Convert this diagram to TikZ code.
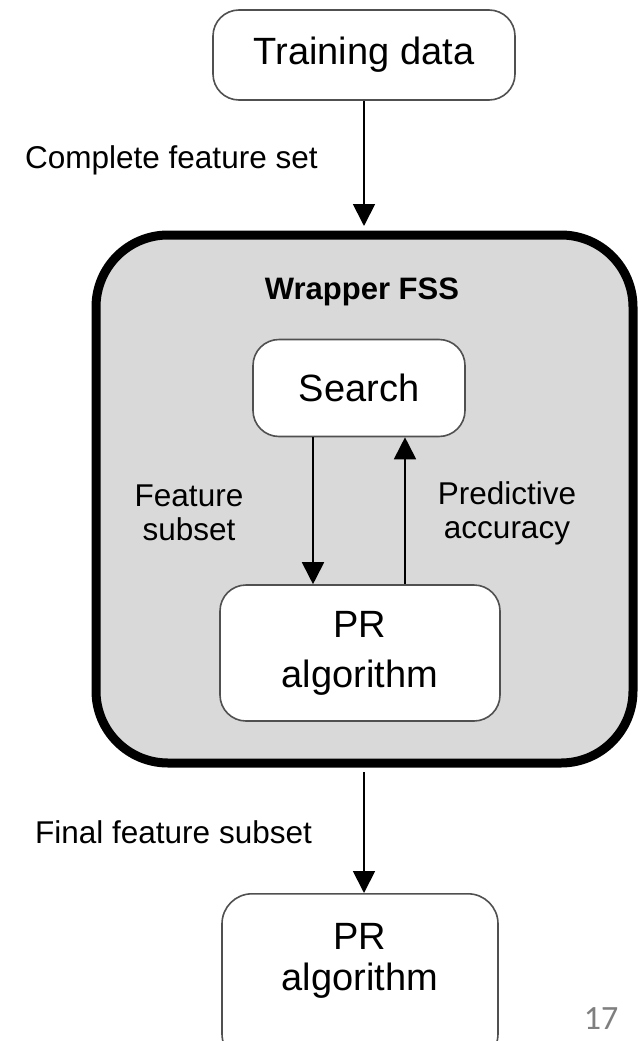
\documentclass[tikz,border=0pt]{standalone}
\usepackage{fontspec}
\setmainfont{Liberation Sans}
\newfontfamily\pagenumfont{Carlito}
\usetikzlibrary{arrows.meta}
\definecolor{wrapfill}{HTML}{D9D9D9}
\definecolor{boxline}{HTML}{505050}
\definecolor{pagegray}{HTML}{7F7F7F}
\tikzset{
  roundbox/.style={draw=boxline, line width=1.6pt, rounded corners=26pt, fill=white, align=center, inner sep=0pt},
  bigtext/.style={font=\fontsize{38}{50}\selectfont},
  labeltext/.style={font=\fontsize{31.5}{34}\selectfont, align=center, inner sep=0pt},
  arr/.style={draw=black, line width=1.8pt, -{Triangle[length=22pt,width=22pt]}},
  wrapbox/.style={draw=black, line width=9pt, fill=wrapfill, rounded corners=72pt, inner sep=0pt}
}
\begin{document}
\begin{tikzpicture}[x=1pt,y=-1pt]
\useasboundingbox (0,0) rectangle (643,1041);
\clip (0,0) rectangle (643,1041);
\fill[white] (0,0) rectangle (643,1041);
% wrapper
\node[wrapbox, minimum width=537pt, minimum height=528pt] (wrap) at (364.5,499) {};
\node[font=\fontsize{31}{34}\selectfont\bfseries, inner sep=0pt] (wraplabel) at (362,292) {Wrapper FSS};
% boxes
\node[roundbox, bigtext, minimum width=302pt, minimum height=90pt] (td) at (364,55) {Training data};
\node[roundbox, bigtext, minimum width=212pt, minimum height=97pt] (search) at (359,388) {Search};
\node[roundbox, bigtext, minimum width=280pt, minimum height=136pt] (prin) at (360,653) {PR\\algorithm};
\node[roundbox, minimum width=276pt, minimum height=170pt, anchor=north, rounded corners=30pt] (prout) at (360,893) {};
\node[font=\fontsize{38}{41}\selectfont, align=center, inner sep=0pt] (prouttext) at (360,961) {PR\\algorithm};
% labels
\node[labeltext, anchor=west] (cfs) at (25,160) {Complete feature set};
\node[labeltext] (fs) at (189,513) {Feature\\subset};
\node[labeltext] (pa) at (507,513) {Predictive\\accuracy};
\node[labeltext, anchor=west] (ffs) at (35,832) {Final feature subset};
\node[font=\pagenumfont\fontsize{34}{36}\selectfont, text=pagegray, inner sep=0pt] (pagenum) at (601,1019) {17};
% arrows
\draw[arr, shorten >=4.5pt] (td.south) -- (td.south |- wrap.north);
\draw[arr] ([xshift=-46pt]search.south) -- ([xshift=-46pt]search.south |- prin.north);
\draw[arr] ([xshift=46pt]search.south |- prin.north) -- ([xshift=46pt]search.south);
\draw[arr, shorten <=4.5pt] (td.south |- wrap.south) -- (td.south |- prout.north);
\end{tikzpicture}
\end{document}
